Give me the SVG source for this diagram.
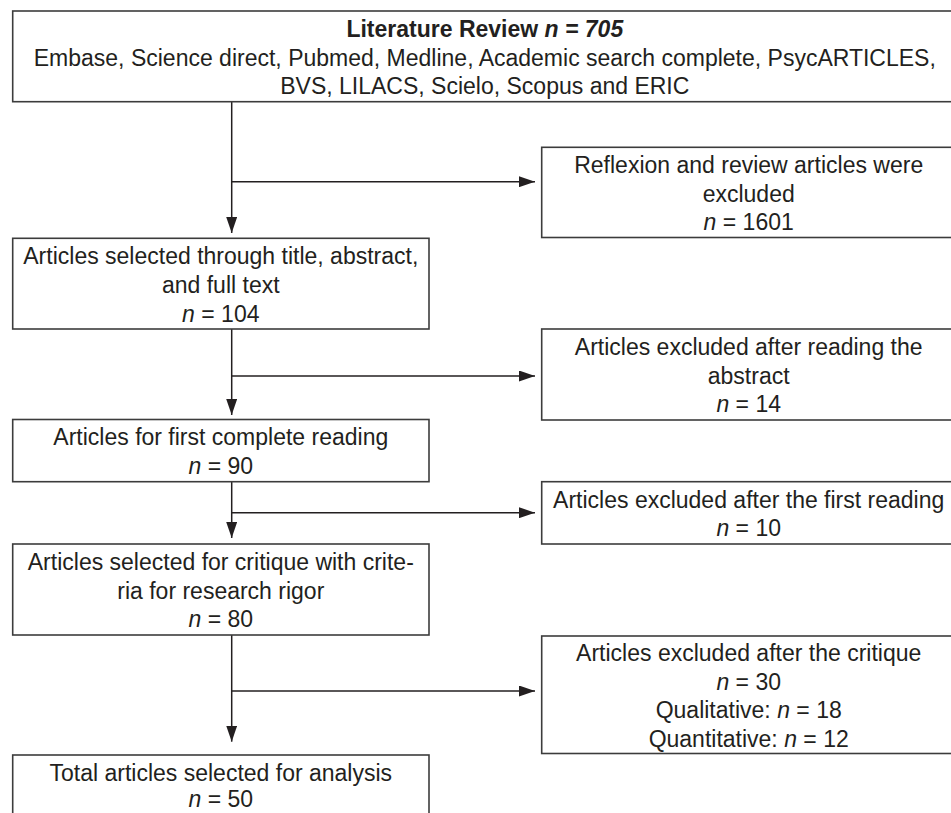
<svg xmlns="http://www.w3.org/2000/svg" width="951" height="813" viewBox="0 0 951 813">
<defs>
<marker id="ah" viewBox="0 0 16 11" refX="16" refY="5.5" markerWidth="16" markerHeight="11" markerUnits="userSpaceOnUse" orient="auto">
<path d="M0,0 L16,5.5 L0,11 Z" fill="#231f20"/>
</marker>
<style>
.box{fill:#fff;stroke:#3c3c3c;stroke-width:1.6}
.t{font-family:"Liberation Sans",Arial,sans-serif;font-size:23px;fill:#231f20;text-anchor:middle}
.i{font-style:italic}
.b{font-weight:bold}
.c{fill:none;stroke:#231f20;stroke-width:1.5}
</style>
</defs>
<rect width="951" height="813" fill="#fff"/>
<g id="connectors">
<path class="c" d="M231.7,101.7 V233" marker-end="url(#ah)"/>
<path class="c" d="M231.7,181.7 H535" marker-end="url(#ah)"/>
<path class="c" d="M231.7,329 V415" marker-end="url(#ah)"/>
<path class="c" d="M231.7,376 H535" marker-end="url(#ah)"/>
<path class="c" d="M231.7,481.7 V538" marker-end="url(#ah)"/>
<path class="c" d="M231.7,512.7 H535" marker-end="url(#ah)"/>
<path class="c" d="M231.7,635 V741.7" marker-end="url(#ah)"/>
<path class="c" d="M231.7,691 H535" marker-end="url(#ah)"/>
</g>
<g id="literature-review">
<rect class="box" x="12.7" y="11" width="944" height="90.7"/>
<text class="t" x="484.8" y="37"><tspan class="b">Literature Review </tspan><tspan class="b i">n = 705</tspan></text>
<text class="t" x="484.8" y="65.7">Embase, Science direct, Pubmed, Medline, Academic search complete, PsycARTICLES,</text>
<text class="t" x="484.8" y="94">BVS, LILACS, Scielo, Scopus and ERIC</text>
</g>
<g id="excluded-reflexion">
<rect class="box" x="541.7" y="147.3" width="414" height="90.2"/>
<text class="t" x="748.7" y="172.7">Reflexion and review articles were</text>
<text class="t" x="748.7" y="201.5">excluded</text>
<text class="t" x="748.7" y="230"><tspan class="i">n</tspan> = 1601</text>
</g>
<g id="selected-title">
<rect class="box" x="12.7" y="238.3" width="416.3" height="90.7"/>
<text class="t" x="220.8" y="264.3">Articles selected through title, abstract,</text>
<text class="t" x="220.8" y="293">and full text</text>
<text class="t" x="220.8" y="321.7"><tspan class="i">n</tspan> = 104</text>
</g>
<g id="excluded-abstract">
<rect class="box" x="541.7" y="329" width="414" height="91"/>
<text class="t" x="748.7" y="355">Articles excluded after reading the</text>
<text class="t" x="748.7" y="383.5">abstract</text>
<text class="t" x="748.7" y="412"><tspan class="i">n</tspan> = 14</text>
</g>
<g id="first-reading">
<rect class="box" x="12.7" y="419.5" width="416.3" height="62.2"/>
<text class="t" x="220.8" y="445">Articles for first complete reading</text>
<text class="t" x="220.8" y="474"><tspan class="i">n</tspan> = 90</text>
</g>
<g id="excluded-first-reading">
<rect class="box" x="541.7" y="481.7" width="414" height="62.3"/>
<text class="t" x="748.7" y="507.5">Articles excluded after the first reading</text>
<text class="t" x="748.7" y="536"><tspan class="i">n</tspan> = 10</text>
</g>
<g id="critique">
<rect class="box" x="12.7" y="544" width="416.3" height="91"/>
<text class="t" x="220.8" y="570">Articles selected for critique with crite-</text>
<text class="t" x="220.8" y="598.5">ria for research rigor</text>
<text class="t" x="220.8" y="627"><tspan class="i">n</tspan> = 80</text>
</g>
<g id="excluded-critique">
<rect class="box" x="541.7" y="636" width="414" height="117.5"/>
<text class="t" x="748.7" y="661">Articles excluded after the critique</text>
<text class="t" x="748.7" y="689.5"><tspan class="i">n</tspan> = 30</text>
<text class="t" x="748.7" y="718">Qualitative: <tspan class="i">n</tspan> = 18</text>
<text class="t" x="748.7" y="746.5">Quantitative: <tspan class="i">n</tspan> = 12</text>
</g>
<g id="total">
<rect class="box" x="12.7" y="755" width="416.3" height="80"/>
<text class="t" x="220.8" y="780.5">Total articles selected for analysis</text>
<text class="t" x="220.8" y="806.7"><tspan class="i">n</tspan> = 50</text>
</g>
</svg>
